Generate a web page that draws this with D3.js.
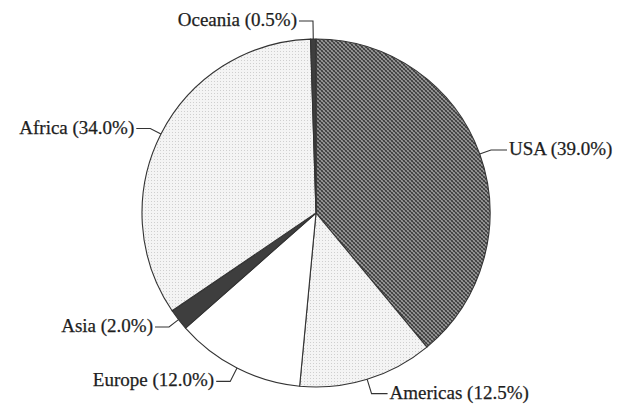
<!DOCTYPE html>
<html>
<head>
<meta charset="utf-8">
<script src="https://cdn.jsdelivr.net/npm/d3@7"></script>
<style>
  html, body { margin: 0; padding: 0; background: #ffffff; }
  svg { display: block; }
</style>
</head>
<body>
<svg id="chart" width="618" height="405"></svg>
<script>
// Data
const regions = ["USA", "Americas", "Europe", "Asia", "Africa", "Oceania"];
const shares = [39.0, 12.5, 12.0, 2.0, 34.0, 0.5];
const labels = ["USA (39.0%)", "Americas (12.5%)", "Europe (12.0%)", "Asia (2.0%)", "Africa (34.0%)", "Oceania (0.5%)"];
const fills = ["hatchDark", "dotLight", "plain", "solidDark", "dotLight", "solidDark"];

const W = 618, H = 405;
const cx = 316, cy = 213, R = 174;

const svg = d3.select("#chart");
const defs = svg.append("defs");

// dark crosshatch
const p1 = defs.append("pattern").attr("id", "hatchDark").attr("patternUnits", "userSpaceOnUse")
  .attr("width", 4).attr("height", 4);
p1.append("rect").attr("width", 4).attr("height", 4).attr("fill", "#9a9a9a");
p1.append("path").attr("d", "M0,0 L4,4 M-1,3 L1,5 M3,-1 L5,1").attr("stroke", "#383838").attr("stroke-width", 1.1);
p1.append("path").attr("d", "M0,4 L4,0 M-1,1 L1,-1 M3,5 L5,3").attr("stroke", "#505050").attr("stroke-width", 0.9);

// light dotted
const p2 = defs.append("pattern").attr("id", "dotLight").attr("patternUnits", "userSpaceOnUse")
  .attr("width", 3).attr("height", 3);
p2.append("rect").attr("width", 3).attr("height", 3).attr("fill", "#f4f4f4");
p2.append("rect").attr("width", 1).attr("height", 1).attr("fill", "#cfcfcf");

const fillOf = k => k === "hatchDark" ? "url(#hatchDark)"
  : k === "dotLight" ? "url(#dotLight)"
  : k === "solidDark" ? "#3e3e3e" : "#ffffff";

const pie = d3.pie().sort(null).value(d => d.v);
const arcs = pie(regions.map((r, i) => ({ r, v: shares[i], label: labels[i], fill: fills[i] })));
const arc = d3.arc().innerRadius(0).outerRadius(R);

const g = svg.append("g").attr("transform", `translate(${cx},${cy})`);
g.selectAll("path.slice").data(arcs).enter().append("path")
  .attr("class", "slice")
  .attr("d", arc)
  .attr("fill", d => fillOf(d.data.fill))
  .attr("stroke", "#333")
  .attr("stroke-width", 1.1)
  .attr("stroke-linejoin", "round");

// labels with leader lines
const elbowLen = d => d.data.r === "Oceania" ? 18 : (d.data.r === "Americas" || d.data.r === "Europe") ? 15 : 12;
const line = d3.line().curve(d3.curveLinear);
arcs.forEach(d => {
  const a = (d.startAngle + d.endAngle) / 2;
  const sx = Math.sin(a), sy = -Math.cos(a);
  const p0 = [sx * R, sy * R];
  const e = elbowLen(d);
  const p1 = [sx * (R + e), sy * (R + e)];
  const right = sx > 0.05;
  const p2 = [p1[0] + (right ? 16 : -14), p1[1]];
  g.append("path")
    .attr("d", line([p0, p1, p2]))
    .attr("fill", "none")
    .attr("stroke", "#333")
    .attr("stroke-width", 1.1);
  g.append("text")
    .attr("x", p2[0] + (right ? 2 : -2))
    .attr("y", p2[1] + 5)
    .attr("text-anchor", right ? "start" : "end")
    .attr("font-family", "'Liberation Serif', 'Times New Roman', serif")
    .attr("font-size", 19)
    .attr("fill", "#1e1e1e")
    .attr("stroke", "#1e1e1e")
    .attr("stroke-width", 0.25)
    .text(d.data.label);
});
</script>
</body>
</html>
